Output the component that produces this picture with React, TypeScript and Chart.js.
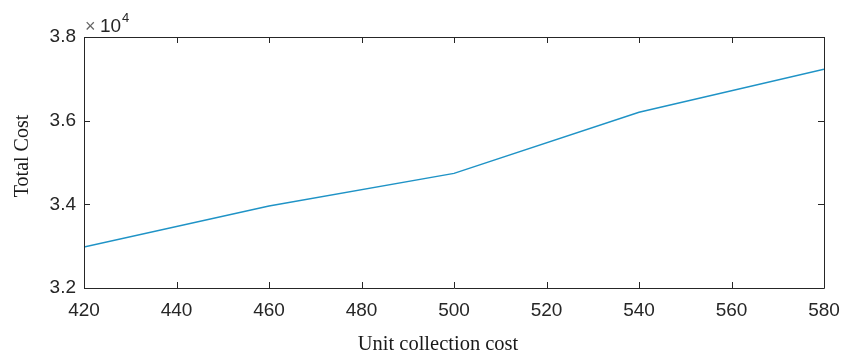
import React, { useEffect, useRef } from "react";
import { Chart, registerables } from "chart.js";

Chart.register(...registerables);

const unitCollectionCost = [420, 460, 500, 540, 580];
const totalCost = [32980, 33960, 34740, 36200, 37230];
const xTickValues = [420, 440, 460, 480, 500, 520, 540, 560, 580];
const yTickValues = [32000, 34000, 36000, 38000];
const xTitle = "Unit collection cost";
const yTitle = "Total Cost";

const AXIS_COLOR = "#262626";
const LINE_COLOR = "#1f93c6";

const boxPlugin = {
  id: "matlabBox",
  afterDraw(chart: any) {
    const { ctx, chartArea } = chart;
    const { left, right, top, bottom } = chartArea;
    const xs = chart.scales.x;
    const ys = chart.scales.y;
    ctx.save();
    ctx.strokeStyle = AXIS_COLOR;
    ctx.lineWidth = 1;
    ctx.beginPath();
    ctx.rect(Math.round(left) + 0.5, Math.round(top) + 0.5, Math.round(right - left), Math.round(bottom - top));
    ctx.stroke();
    const tl = 6;
    ctx.beginPath();
    xTickValues.forEach((v) => {
      const px = Math.round(xs.getPixelForValue(v)) + 0.5;
      ctx.moveTo(px, bottom);
      ctx.lineTo(px, bottom - tl);
      ctx.moveTo(px, top);
      ctx.lineTo(px, top + tl);
    });
    yTickValues.forEach((v) => {
      const py = Math.round(ys.getPixelForValue(v)) + 0.5;
      ctx.moveTo(left, py);
      ctx.lineTo(left + tl, py);
      ctx.moveTo(right, py);
      ctx.lineTo(right - tl, py);
    });
    ctx.stroke();

    // exponent label
    ctx.fillStyle = "#666";
    ctx.font = "18px 'Liberation Sans'";
    ctx.textAlign = "left";
    ctx.textBaseline = "alphabetic";
    ctx.fillText("\u00d7", left + 1, top - 5);
    ctx.fillStyle = AXIS_COLOR;
    ctx.font = "19px 'Liberation Sans'";
    ctx.fillText("10", left + 16, top - 5);
    ctx.font = "13px 'Liberation Sans'";
    ctx.fillText("4", left + 38, top - 15);

    // axis titles
    ctx.fillStyle = "#1a1a1a";
    ctx.font = "20.5px 'Liberation Serif'";
    ctx.textAlign = "center";
    ctx.fillText(xTitle, 438, 350);
    ctx.font = "20px 'Liberation Serif'";
    ctx.translate(28, 156);
    ctx.rotate(-Math.PI / 2);
    ctx.fillText(yTitle, 0, 0);
    ctx.restore();
  },
};

export default function App() {
  const ref = useRef<HTMLCanvasElement | null>(null);
  useEffect(() => {
    document.body.style.margin = "0";
    const canvas = ref.current!;
    const chart = new Chart(canvas, {
      type: "line",
      data: {
        datasets: [
          {
            data: unitCollectionCost.map((x, i) => ({ x, y: totalCost[i] })),
            borderColor: LINE_COLOR,
            borderWidth: 1.5,
            pointRadius: 0,
            tension: 0,
            fill: false,
          },
        ],
      },
      options: {
        responsive: false,
        animation: false,
        devicePixelRatio: 1,
        layout: { padding: { top: 37, right: 21, left: 0, bottom: 0 } },
        plugins: { legend: { display: false }, tooltip: { enabled: false } },
        scales: {
          x: {
            type: "linear",
            min: 420,
            max: 580,
            grid: { display: false, drawTicks: false },
            border: { display: false },
            ticks: {
              stepSize: 20,
              padding: 11,
              color: AXIS_COLOR,
              font: { family: "'Liberation Sans'", size: 19 },
              maxRotation: 0,
              autoSkip: false,
            },
            afterFit: (s: any) => {
              s.height = 70;
              s.paddingLeft = 0;
              s.paddingRight = 0;
            },
          },
          y: {
            type: "linear",
            min: 32000,
            max: 38000,
            grid: { display: false, drawTicks: false },
            border: { display: false },
            ticks: {
              stepSize: 2000,
              padding: 8,
              color: AXIS_COLOR,
              font: { family: "'Liberation Sans'", size: 19 },
              callback: (v: any) => (Number(v) / 1e4).toFixed(1),
            },
            afterFit: (s: any) => {
              s.width = 84;
              s.paddingTop = 0;
              s.paddingBottom = 0;
            },
          },
        },
      },
      plugins: [boxPlugin],
    });
    return () => chart.destroy();
  }, []);
  return <canvas ref={ref} width={845} height={358} style={{ display: "block" }} />;
}
